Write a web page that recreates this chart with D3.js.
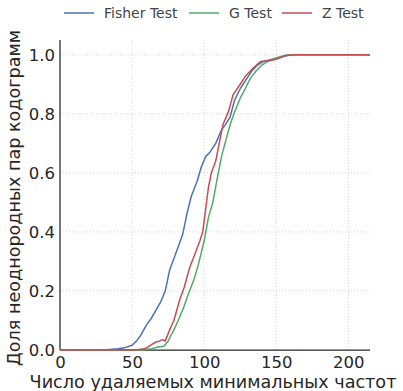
<!DOCTYPE html>
<html>
<head>
<meta charset="utf-8">
<script src="https://cdn.jsdelivr.net/npm/d3@7"></script>
<style>
  body { margin: 0; background: #fff; }
  svg text { font-family: "DejaVu Sans", sans-serif; }
</style>
</head>
<body>
<div id="chart"></div>
<script>
// values
const seriesNames = ['Fisher Test', 'G Test', 'Z Test'];
const seriesColors = ['#4c72b0', '#55a868', '#c44e52'];

const fisherX = [0, 30, 40, 45, 50, 53, 56, 60, 63, 66, 70, 73, 76, 79, 82, 85, 88, 91, 95, 98, 101, 104, 108, 112, 115, 118, 121, 125, 129, 133, 137, 141, 146, 152, 158, 163, 215];
const fisherY = [0, 0, 0.004, 0.008, 0.016, 0.03, 0.05, 0.085, 0.105, 0.13, 0.165, 0.2, 0.27, 0.31, 0.35, 0.39, 0.46, 0.52, 0.57, 0.62, 0.655, 0.67, 0.70, 0.745, 0.765, 0.79, 0.845, 0.885, 0.915, 0.945, 0.965, 0.977, 0.983, 0.99, 0.998, 1.0, 1.0];

const gX = [0, 58, 62, 65, 68, 72, 75, 77, 79, 82, 86, 89, 93, 96, 100, 103, 106, 109, 112, 115, 118, 121, 125, 129, 132, 136, 140, 145, 150, 156, 162, 215];
const gY = [0, 0, 0.003, 0.006, 0.01, 0.013, 0.03, 0.05, 0.068, 0.1, 0.147, 0.19, 0.24, 0.29, 0.37, 0.45, 0.5, 0.58, 0.655, 0.71, 0.763, 0.805, 0.853, 0.89, 0.92, 0.945, 0.965, 0.98, 0.99, 0.998, 1.0, 1.0];

const zX = [0, 52, 57, 60, 64, 67, 69, 71, 73, 76, 79, 83, 86, 90, 94, 97, 99, 103, 105, 108, 110, 113, 117, 120, 125, 129, 134, 139, 145, 150, 156, 162, 215];
const zY = [0, 0, 0.003, 0.007, 0.02, 0.028, 0.03, 0.035, 0.03, 0.068, 0.1, 0.17, 0.21, 0.28, 0.33, 0.37, 0.4, 0.553, 0.6, 0.64, 0.69, 0.763, 0.81, 0.864, 0.9, 0.93, 0.955, 0.977, 0.98, 0.985, 0.997, 1.0, 1.0];

const seriesX = [fisherX, gX, zX];
const seriesY = [fisherY, gY, zY];

const xTicks = [0, 50, 100, 150, 200];
const yTicks = [0.0, 0.2, 0.4, 0.6, 0.8, 1.0];
const xLabel = 'Число удаляемых минимальных частот';
const yLabel = 'Доля неоднородных пар кодограмм';

const W = 403, H = 391;
const margin = {left: 60, right: 33, top: 40, bottom: 41};
const width = W - margin.left - margin.right;
const height = H - margin.top - margin.bottom;

const svg = d3.select('#chart').append('svg')
  .attr('width', W)
  .attr('height', H);

const g = svg.append('g')
  .attr('transform', 'translate(' + margin.left + ',' + margin.top + ')');

const x = d3.scaleLinear().domain([0, 215]).range([0, width]);
const y = d3.scaleLinear().domain([0, 1.05]).range([height, 0]);

// grid
g.append('g').selectAll('line').data(xTicks.slice(1)).enter().append('line')
  .attr('x1', d => x(d)).attr('x2', d => x(d))
  .attr('y1', 0).attr('y2', height)
  .attr('stroke', '#cccccc').attr('stroke-width', 0.8).attr('stroke-dasharray', '1,2');
g.append('g').selectAll('line').data(yTicks.slice(1)).enter().append('line')
  .attr('x1', 0).attr('x2', width)
  .attr('y1', d => y(d)).attr('y2', d => y(d))
  .attr('stroke', '#cccccc').attr('stroke-width', 0.8).attr('stroke-dasharray', '1,2');

// axes
const xAxis = g.append('g')
  .attr('transform', 'translate(0,' + height + ')')
  .call(d3.axisBottom(x).tickValues(xTicks).tickFormat(d3.format('d')).tickSize(0).tickPadding(6));
const yAxis = g.append('g')
  .call(d3.axisLeft(y).tickValues(yTicks).tickFormat(d3.format('.1f')).tickSize(0).tickPadding(5));

[xAxis, yAxis].forEach(a => {
  a.select('.domain').attr('stroke', '#262626').attr('stroke-width', 1.25);
  a.selectAll('text').attr('font-size', 16.5).attr('fill', '#262626')
    .style('font-family', '"DejaVu Sans", sans-serif');
});
yAxis.select('.domain').attr('d', 'M0,' + height + 'V0');
xAxis.select('.domain').attr('d', 'M0,0H' + width);

// lines
const line = d3.line()
  .x(d => x(d[0]))
  .y(d => y(d[1]));

seriesNames.forEach((name, i) => {
  const pts = seriesX[i].map((v, j) => [v, seriesY[i][j]]);
  g.append('path')
    .datum(pts)
    .attr('fill', 'none')
    .attr('stroke', seriesColors[i])
    .attr('stroke-width', 1.5)
    .attr('stroke-linejoin', 'round')
    .attr('d', line);
});

// labels
svg.append('text')
  .attr('x', 213)
  .attr('y', 388)
  .attr('text-anchor', 'middle')
  .attr('font-size', 17.6)
  .attr('fill', '#262626')
  .text(xLabel);

svg.append('text')
  .attr('transform', 'translate(20,' + 198 + ') rotate(-90)')
  .attr('text-anchor', 'middle')
  .attr('font-size', 17.6)
  .attr('fill', '#262626')
  .text(yLabel);

// legend
const legendX = [64, 189, 282];
const legend = svg.append('g');
seriesNames.forEach((name, i) => {
  legend.append('line')
    .attr('x1', legendX[i]).attr('x2', legendX[i] + 30)
    .attr('y1', 13).attr('y2', 13)
    .attr('stroke', seriesColors[i]).attr('stroke-width', 1.5);
  legend.append('text')
    .attr('x', legendX[i] + 40)
    .attr('y', 18)
    .attr('font-size', 14)
    .attr('fill', '#444')
    .text(name);
});
</script>
</body>
</html>
